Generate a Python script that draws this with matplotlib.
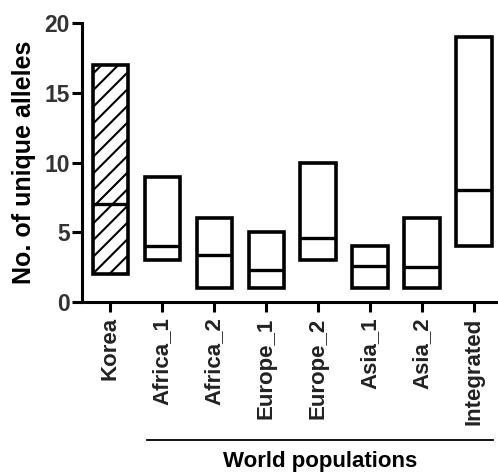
import matplotlib
matplotlib.use("Agg")
import matplotlib.pyplot as plt
from matplotlib.lines import Line2D

plt.rcParams['font.family'] = ['Liberation Sans', 'DejaVu Sans']
plt.rcParams['hatch.linewidth'] = 1.5

categories = ["Korea", "Africa_1", "Africa_2", "Europe_1", "Europe_2", "Asia_1", "Asia_2", "Integrated"]
mins = [2, 3, 1, 1, 3, 1, 1, 4]
maxs = [17, 9, 6, 5, 10, 4, 6, 19]
medians = [7, 4, 3.4, 2.3, 4.6, 2.6, 2.5, 8]
hatched = [True, False, False, False, False, False, False, False]

fig = plt.figure(figsize=(4.98, 4.72), dpi=100)
ax = fig.add_axes([0.165, 0.36, 0.835, 0.591])

x = list(range(len(categories)))
width = 0.68
for xi, lo, hi, med, h in zip(x, mins, maxs, medians, hatched):
    ax.bar(xi, hi - lo, bottom=lo, width=width, facecolor='white', edgecolor='black',
           linewidth=2.6, hatch='//' if h else None, zorder=2)
    ax.plot([xi - width / 2, xi + width / 2], [med, med], color='black', linewidth=2.4, zorder=3,
            solid_capstyle='butt')

ax.set_xlim(-0.54, 7.46)
ax.set_ylim(0, 20)
ax.set_yticks([0, 5, 10, 15, 20])
ax.set_xticks(x)
ax.set_xticklabels(categories, rotation=90, fontsize=16, fontweight='bold', color='#222222')
for lab in ax.get_yticklabels():
    lab.set_fontsize(16.5)
    lab.set_fontweight('bold')
    lab.set_color('#333333')
ax.tick_params(axis='both', direction='out', length=7, width=2.2)
ax.tick_params(axis='x', pad=4)
ax.tick_params(axis='y', pad=2)
for s in ['top', 'right']:
    ax.spines[s].set_visible(False)
for s in ['left', 'bottom']:
    ax.spines[s].set_linewidth(2.2)
ax.set_ylabel("No. of unique alleles", fontsize=18, fontweight='bold', labelpad=6)

# bracket for world populations
fig.add_artist(Line2D([147 / 498, 493 / 498], [1 - 440 / 472, 1 - 440 / 472], color='black', linewidth=1.3))
fig.text(320 / 498, 1 - 461 / 472, "World populations", ha='center', va='center', fontsize=16, fontweight='bold')

fig.savefig("out.png", dpi=100)
